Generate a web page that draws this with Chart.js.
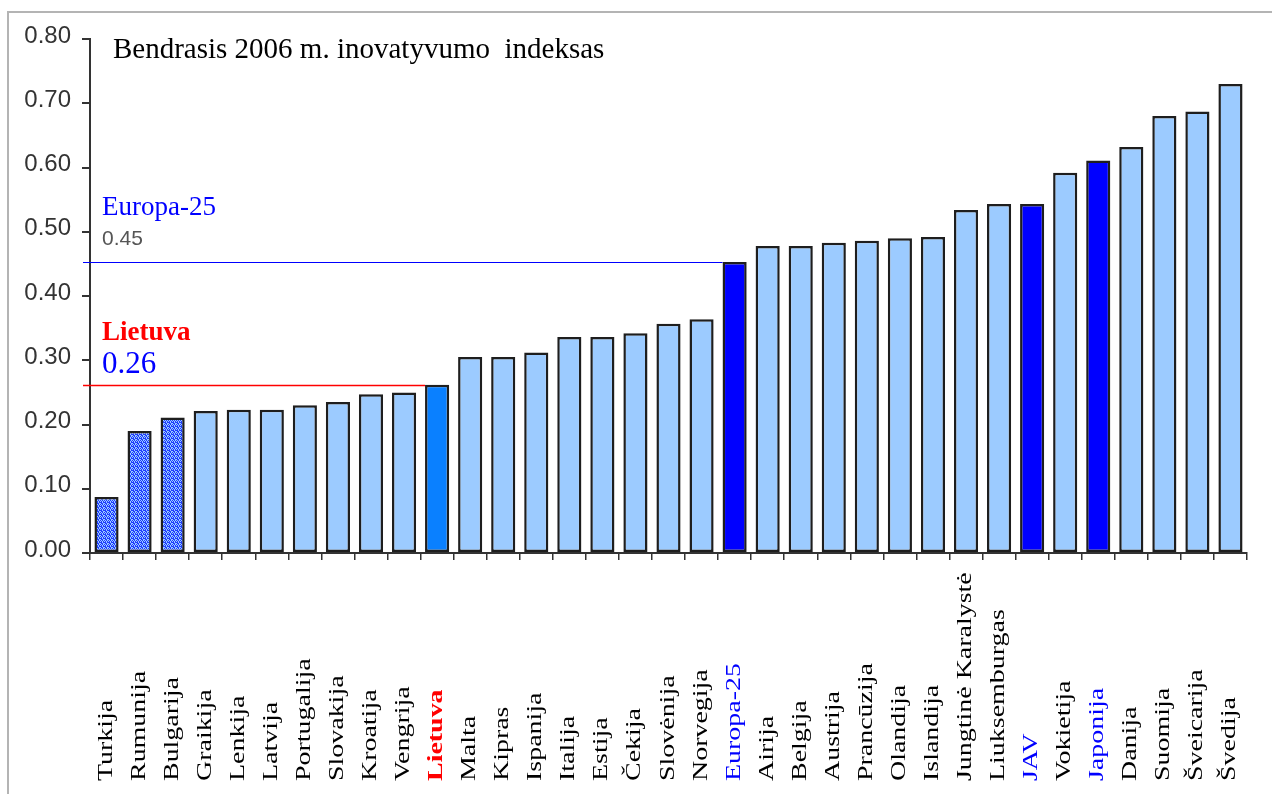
<!DOCTYPE html>
<html>
<head>
<meta charset="utf-8">
<script src="https://cdn.jsdelivr.net/npm/chart.js@4"></script>
<style>
  html, body { margin: 0; padding: 0; background: #fff; }
  #wrap { position: relative; width: 1272px; height: 794px; overflow: hidden; }
  #frame { position: absolute; left: 7px; top: 11px; width: 1300px; height: 900px; border: 2px solid #b4b4b4; box-sizing: border-box; }
  canvas { position: absolute; left: 0; top: 0; }
</style>
</head>
<body>
<div id="wrap">
  <div id="frame"></div>
  <canvas id="c" width="1272" height="794"></canvas>
</div>
<script>
const categories = ['Turkija','Rumunija','Bulgarija','Graikija','Lenkija','Latvija','Portugalija','Slovakija','Kroatija','Vengrija','Lietuva','Malta','Kipras','Ispanija','Italija','Estija','Čekija','Slovėnija','Norvegija','Europa-25','Airija','Belgija','Austrija','Prancūzija','Olandija','Islandija','Jungtinė Karalystė','Liuksemburgas','JAV','Vokietija','Japonija','Danija','Suomija','Šveicarija','Švedija'];
const values = [0.087,0.190,0.211,0.221,0.223,0.223,0.230,0.235,0.247,0.250,0.262,0.305,0.305,0.312,0.336,0.336,0.342,0.357,0.364,0.453,0.478,0.478,0.483,0.486,0.490,0.492,0.534,0.543,0.543,0.592,0.611,0.632,0.680,0.687,0.730];
const blueCategories = ['Europa-25','JAV','Japonija'];
const patternCategories = ['Turkija','Rumunija','Bulgarija'];
const homeCategory = 'Lietuva';
const euCategory = 'Europa-25';
const titleText = 'Bendrasis 2006 m. inovatyvumo  indeksas';
const euLabel = 'Europa-25';
const euValueLabel = '0.45';
const homeLabel = 'Lietuva';
const homeValueLabel = '0.26';
const yMin = 0, yMax = 0.8, yStep = 0.1;

const LIGHT = '#9ccbff';
const BLUE = '#0000ff';
const HOME = '#0a80ff';

function makePattern() {
  const p = document.createElement('canvas');
  p.width = 4; p.height = 4;
  const g = p.getContext('2d');
  g.fillStyle = LIGHT; g.fillRect(0,0,4,4);
  g.fillStyle = '#1f3cff';
  g.fillRect(0,0,1,1); g.fillRect(2,0,1,1);
  g.fillRect(1,1,1,1); g.fillRect(3,1,1,1);
  g.fillRect(0,2,2,1); g.fillRect(3,2,1,1);
  g.fillRect(1,3,1,1); g.fillRect(2,3,1,1);
  return document.getElementById('c').getContext('2d').createPattern(p, 'repeat');
}
const pattern = makePattern();

const bg = categories.map(c => patternCategories.includes(c) ? pattern : blueCategories.includes(c) ? BLUE : c === homeCategory ? HOME : LIGHT);
const bc = categories.map(c => '#1e1e1e');

const overlay = {
  id: 'overlay',
  afterDatasetsDraw(chart) {
    const ctx = chart.ctx;
    const ys = chart.scales.y, xs = chart.scales.x;
    const meta = chart.getDatasetMeta(0);
    const eu = categories.indexOf(euCategory), home = categories.indexOf(homeCategory);
    ctx.save();
    const euBar = meta.data[eu], homeBar = meta.data[home];
    ctx.lineWidth = 1.2;
    ctx.strokeStyle = BLUE;
    let y = Math.round(ys.getPixelForValue(values[eu])) + 0.5;
    ctx.beginPath(); ctx.moveTo(83, y); ctx.lineTo(euBar.x - euBar.width/2, y); ctx.stroke();
    ctx.strokeStyle = '#ff0000';
    ctx.lineWidth = 1.5;
    y = Math.round(ys.getPixelForValue(values[home])) + 0.5;
    ctx.beginPath(); ctx.moveTo(83, y); ctx.lineTo(homeBar.x - homeBar.width/2, y); ctx.stroke();
    ctx.fillStyle = '#000';
    ctx.textAlign = 'left'; ctx.textBaseline = 'alphabetic';
    ctx.font = '29px "Liberation Serif"';
    ctx.fillText(titleText, 113, 58);
    ctx.fillStyle = BLUE;
    ctx.font = '27px "Liberation Serif"';
    ctx.fillText(euLabel, 102, 215);
    ctx.fillStyle = '#555';
    ctx.font = '21px "Liberation Sans"';
    ctx.fillText(euValueLabel, 102, 245);
    ctx.fillStyle = '#ff0000';
    ctx.font = 'bold 27px "Liberation Serif"';
    ctx.fillText(homeLabel, 102, 340);
    ctx.fillStyle = BLUE;
    ctx.font = '31px "Liberation Serif"';
    ctx.fillText(homeValueLabel, 102, 373);
    categories.forEach((c, i) => {
      const x = xs.getPixelForValue(i);
      ctx.save();
      ctx.translate(x + 5, 781);
      ctx.rotate(-Math.PI/2);
      ctx.scale(1.27, 1);
      ctx.fillStyle = c === homeCategory ? '#ff0000' : blueCategories.includes(c) ? BLUE : '#000';
      ctx.font = (c === homeCategory ? 'bold ' : '') + '22px "Liberation Serif"';
      ctx.textAlign = 'left'; ctx.textBaseline = 'alphabetic';
      ctx.fillText(c, 0, 0);
      ctx.restore();
    });
    ctx.restore();
  }
};

new Chart(document.getElementById('c'), {
  type: 'bar',
  data: {
    labels: categories,
    datasets: [{
      data: values,
      backgroundColor: bg,
      borderColor: bc,
      borderWidth: 2.5,
      borderSkipped: false,
      barPercentage: 0.73,
      categoryPercentage: 1.0
    }]
  },
  options: {
    responsive: false,
    animation: false,
    devicePixelRatio: 1,
    layout: { padding: { left: 0, right: 25, top: 39, bottom: 0 } },
    plugins: { legend: { display: false }, tooltip: { enabled: false }, title: { display: false } },
    scales: {
      x: {
        grid: { drawOnChartArea: false, drawTicks: true, tickLength: 7, color: '#333', lineWidth: 1.5, offset: true },
        border: { display: true, color: '#333', width: 2 },
        ticks: { display: false },
        afterFit(s) { s.height = 794 - 553; }
      },
      y: {
        min: yMin, max: yMax,
        grid: { drawOnChartArea: false, drawTicks: true, tickLength: 8, color: '#333', lineWidth: 2 },
        border: { display: true, color: '#333', width: 2 },
        ticks: {
          stepSize: yStep,
          padding: 11,
          labelOffset: -3,
          color: '#333',
          font: { family: '"Liberation Sans"', size: 24 },
          callback: v => Number(v).toFixed(2)
        },
        afterFit(s) { s.width = 90; }
      }
    }
  },
  plugins: [overlay]
});
</script>
</body>
</html>
